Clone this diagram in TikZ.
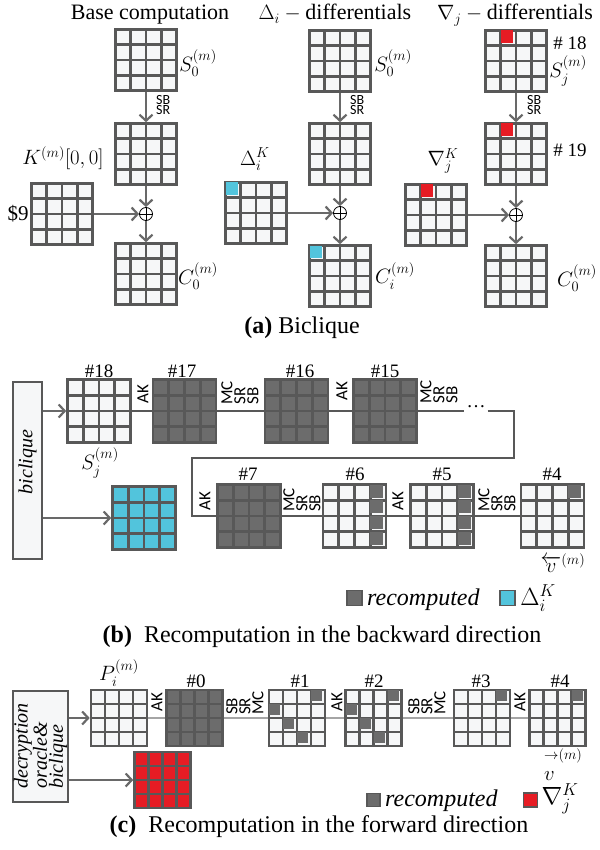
\documentclass[tikz,border=0pt]{standalone}
\usepackage{fontspec}
\usepackage{amsmath}
\setmainfont{Liberation Serif}
\setsansfont{Carlito}
\usetikzlibrary{arrows.meta,calc}

\definecolor{gridgray}{RGB}{88,88,88}
\definecolor{arrowgray}{RGB}{105,105,105}
\definecolor{cellwhite}{RGB}{246,247,248}
\definecolor{recomp}{RGB}{108,108,108}
\definecolor{deltacyan}{RGB}{82,196,220}
\definecolor{nablared}{RGB}{230,28,36}
\definecolor{linklight}{RGB}{165,165,165}

% fill one cell (row, col) of a 4x4 state node
\newcommand{\markcell}[5][61]{%
  \fill[#5] ($(#2.north west)+({(#4-1)*#1/4+1.3},{(#3-1)*#1/4+1.3})$)
    rectangle ++({#1/4-2.6},{#1/4-2.6});%
}

\begin{document}
\begin{tikzpicture}[
    x=1pt, y=-1pt,
    gridline/.style={draw=gridgray, line width=2.6pt},
    state/.style={draw=gridgray, line width=2.6pt, fill=cellwhite,
        minimum size=#1, inner sep=0pt,
        path picture={
            \foreach \k in {1,2,3} {
                \draw[gridline] ($(path picture bounding box.north west)!\k/4!(path picture bounding box.north east)$)
                    -- ($(path picture bounding box.south west)!\k/4!(path picture bounding box.south east)$);
                \draw[gridline] ($(path picture bounding box.north west)!\k/4!(path picture bounding box.south west)$)
                    -- ($(path picture bounding box.north east)!\k/4!(path picture bounding box.south east)$);
            }
        }},
    state/.default=61pt,
    flow/.style={draw=arrowgray, line width=2.2pt, -{Straight Barb[length=6pt,width=13pt]}},
    linkB/.style={draw=gridgray, line width=1.8pt},
    linkC/.style={draw=linklight, line width=2.6pt},
    xorop/.style={circle, draw=black, line width=0.8pt, fill=white, minimum size=13pt, inner sep=0pt,
        path picture={\draw[line width=0.8pt] (path picture bounding box.north) -- (path picture bounding box.south)
            (path picture bounding box.west) -- (path picture bounding box.east);}},
    panel/.style={draw=gridgray, line width=2pt, fill=cellwhite, inner sep=0pt},
    paneltext/.style={font=\itshape\fontsize{20}{16}\selectfont, rotate=90, align=left, inner sep=0pt},
    title/.style={font=\fontsize{22}{24}\selectfont, inner sep=0pt, anchor=base},
    mlabel/.style={font=\fontsize{21}{24}\selectfont, inner sep=0pt},
    num/.style={font=\fontsize{19}{22}\selectfont, inner sep=0pt, anchor=base},
    opsh/.style={font=\sffamily\fontsize{14}{10}\selectfont, align=left, inner sep=0pt, anchor=west},
    opsv/.style={font=\sffamily\fontsize{17}{13}\selectfont, align=left, inner sep=0pt, rotate=90},
    caption/.style={font=\fontsize{24}{28}\selectfont, inner sep=0pt, anchor=base},
    legsq/.style={draw=gridgray, line width=1.5pt, minimum size=#1, inner sep=0pt},
    legsq/.default=15pt,
    legtext/.style={font=\itshape\fontsize{24}{28}\selectfont, inner sep=0pt, anchor=base west},
    legmath/.style={font=\fontsize{24}{28}\selectfont, inner sep=0pt}
]
\useasboundingbox (0,0) rectangle (599,850);

% ---------- (a) Biclique ----------
\node[title] (titleBase) at (150,20) {Base computation};
\node[title] (titleDelta) at (335,20) {$\Delta_i -{}$differentials};
\node[title] (titleNabla) at (515,20) {$\nabla_j -{}$differentials};

% base computation
\node[state] (sA) at (146,60) {};
\node[state] (rA) at (146,154) {};
\node[xorop] (xorA) at (146,214) {};
\node[state] (kA) at (62,214) {};
\node[state] (cA) at (146,274) {};
\draw[flow] (sA) -- (rA);
\draw[flow] (rA) -- (xorA);
\draw[flow] (kA) -- (xorA);
\draw[flow] (xorA) -- (cA);
\node[mlabel] (sAlab) at (198,63) {$S_0^{(m)}$};
\node[opsh] (opsA) at (156,105) {SB\\SR};
\node[mlabel] (kAlab) at (63,158) {$K^{(m)}[0,0]$};
\node[mlabel] (nineA) at (18,214) {\$9};
\node[mlabel] (cAlab) at (198,276) {$C_0^{(m)}$};

% Delta_i differentials
\node[state] (sD) at (340,61) {};
\node[state] (rD) at (340,154) {};
\node[xorop] (xorD) at (340,213) {};
\node[state] (dK) at (256,213) {};
\node[state] (cD) at (340,276) {};
\draw[flow] (sD) -- (rD);
\draw[flow] (rD) -- (xorD);
\draw[flow] (dK) -- (xorD);
\draw[flow] (xorD) -- (cD);
\markcell{dK}{1}{1}{deltacyan}
\markcell{cD}{1}{1}{deltacyan}
\node[mlabel] (sDlab) at (393,63) {$S_0^{(m)}$};
\node[opsh] (opsD) at (350,105) {SB\\SR};
\node[mlabel] (dKlab) at (255,159) {$\Delta_i^K$};
\node[mlabel] (cDlab) at (395,276) {$C_i^{(m)}$};

% Nabla_j differentials
\node[state] (sN) at (516,61) {};
\node[state] (rN) at (516,154) {};
\node[xorop] (xorN) at (516,215) {};
\node[state] (nK) at (436,215) {};
\node[state] (cN) at (516,276) {};
\draw[flow] (sN) -- (rN);
\draw[flow] (rN) -- (xorN);
\draw[flow] (nK) -- (xorN);
\draw[flow] (xorN) -- (cN);
\markcell{sN}{1}{2}{nablared}
\markcell{rN}{1}{2}{nablared}
\markcell{nK}{1}{2}{nablared}
\node[num] (n18A) at (570,50) {\# 18};
\node[mlabel] (sNlab) at (568,71) {$S_j^{(m)}$};
\node[opsh] (opsN) at (527,105) {SB\\SR};
\node[num] (n19A) at (570,157) {\# 19};
\node[mlabel] (nKlab) at (443,161) {$\nabla_j^K$};
\node[mlabel] (cNlab) at (577,278) {$C_0^{(m)}$};

\node[caption] (capA) at (302,333) {\textbf{(a)} Biclique};

% ---------- (b) backward ----------
\node[panel, minimum width=29pt, minimum height=177pt] (bicB) at (27.5,470.5) {};
\node[paneltext] (bicBtext) at (27.5,462) {biclique};

\node[state=63pt] (g18) at (99,411) {};
\node[state=63pt, fill=recomp] (g17) at (184.5,411) {};
\node[state=63pt, fill=recomp] (g16) at (296.5,411) {};
\node[state=63pt, fill=recomp] (g15) at (385,411) {};
\node[font=\fontsize{19}{22}\selectfont, inner sep=2pt] (dotsB) at (476,407) {\dots};
\coordinate (turnB) at (514,458);
\coordinate (loopB) at (192,458);
\node[state=63pt, fill=recomp] (g7) at (249,516) {};
\node[state=63pt] (g6) at (354.5,516) {};
\node[state=63pt] (g5) at (442,516) {};
\node[state=63pt] (g4) at (552.5,516) {};
\node[state=63pt, fill=deltacyan] (cyanB) at (144,518) {};
\foreach \r in {1,2,3,4} {
    \markcell[63]{g6}{\r}{4}{recomp}
    \markcell[63]{g5}{\r}{4}{recomp}
}
\markcell[63]{g4}{1}{4}{recomp}

\draw[flow] (bicB.east |- g18) -- (g18.west);
\draw[flow] (bicB.east |- cyanB) -- (cyanB.west);
\draw[linkB] (g18) -- (g17);
\draw[linkB] (g17) -- (g16);
\draw[linkB] (g16) -- (g15);
\draw[linkB] (g15.east) -- (dotsB.west |- g15);
\draw[linkB] (dotsB.east |- g15) -| (turnB) -- (loopB) |- (g7.west);
\draw[linkB] (g7) -- (g6);
\draw[linkB] (g6) -- (g5);
\draw[linkB] (g5) -- (g4);

\node[num] (n18B) at (99,377) {\#18};
\node[num] (n17B) at (182,377) {\#17};
\node[num] (n16B) at (300,377) {\#16};
\node[num] (n15B) at (385,377) {\#15};
\node[num] (n7B) at (248,480) {\#7};
\node[num] (n6B) at (355,480) {\#6};
\node[num] (n5B) at (442,480) {\#5};
\node[num] (n4B) at (552,480) {\#4};
\node[mlabel] (sjB) at (100,463) {$S_j^{(m)}$};
\node[mlabel] (vB) at (563,563) {$\overleftarrow{v}^{(m)}$};

\node[opsv] (opB1) at (143,394) {AK};
\node[opsv] (opB2) at (240,393) {MC\\SR\\SB};
\node[opsv] (opB3) at (342,391) {AK};
\node[opsv] (opB4) at (439,392) {MC\\SR\\SB};
\node[opsv] (opB5) at (205,501) {AK};
\node[opsv] (opB6) at (302,500) {MC\\SR\\SB};
\node[opsv] (opB7) at (398,501) {AK};
\node[opsv] (opB8) at (497,500) {MC\\SR\\SB};

\node[legsq, fill=recomp] (legRB) at (354.5,598) {};
\node[legtext] (legRBtext) at (367,605) {recomputed};
\node[legsq, fill=deltacyan] (legDB) at (507.5,598) {};
\node[legmath] (legDBtext) at (538,598) {$\Delta_i^K$};

\node[caption] (capB) at (322,642) {\textbf{(b)}~ Recomputation in the backward direction};

% ---------- (c) forward ----------
\node[panel, minimum width=55pt, minimum height=111pt] (oracleC) at (40.5,746.5) {};
\node[paneltext] (oracleCtext) at (40.5,746) {decryption\\oracle\&\\biclique};

\node[state=56pt] (pC) at (119,718) {};
\node[state=56pt, fill=recomp] (g0C) at (194.5,718) {};
\node[state=56pt] (g1C) at (297,718) {};
\node[state=56pt] (g2C) at (373.5,718) {};
\node[state=56pt] (g3C) at (482,718) {};
\node[state=56pt] (g4C) at (557.5,718) {};
\node[state=56pt, fill=nablared] (redC) at (162.5,780) {};
\foreach \r/\c in {1/4,2/1,3/2,4/3} {
    \markcell[56]{g1C}{\r}{\c}{recomp}
    \markcell[56]{g2C}{\r}{\c}{recomp}
}
\markcell[56]{g3C}{1}{4}{recomp}
\markcell[56]{g4C}{1}{4}{recomp}

\draw[flow] (oracleC.east |- pC) -- (pC.west);
\draw[flow] (oracleC.east |- redC) -- (redC.west);
\draw[linkC] (pC) -- (g0C);
\draw[linkC] (g0C) -- (g1C);
\draw[linkC] (g1C) -- (g2C);
\draw[linkC] (g2C) -- (g3C);
\draw[linkC] (g3C) -- (g4C);

\node[mlabel] (piC) at (119,673) {$P_i^{(m)}$};
\node[num] (n0C) at (196,687) {\#0};
\node[num] (n1C) at (300,687) {\#1};
\node[num] (n2C) at (374,687) {\#2};
\node[num] (n3C) at (481,687) {\#3};
\node[num] (n4C) at (560,687) {\#4};
\node[mlabel, align=left, anchor=west] (vC) at (544,765) {$\scriptstyle\rightarrow(m)$\\[-3pt]$v$};

\node[opsv] (opC1) at (157,702) {AK};
\node[opsv] (opC2) at (245,703) {SB\\SR\\MC};
\node[opsv] (opC3) at (337,702) {AK};
\node[opsv] (opC4) at (427,703) {SB\\SR\\MC};
\node[opsv] (opC5) at (520,702) {AK};

\node[legsq=13pt, fill=recomp] (legRC) at (373.5,800) {};
\node[legtext] (legRCtext) at (385,806) {recomputed};
\node[legsq=14pt, fill=nablared] (legNC) at (530.5,800) {};
\node[legmath] (legNCtext) at (560,799) {$\nabla_j^K$};

\node[caption] (capC) at (319,832) {\textbf{(c)}~ Recomputation in the forward direction};
\end{tikzpicture}
\end{document}
